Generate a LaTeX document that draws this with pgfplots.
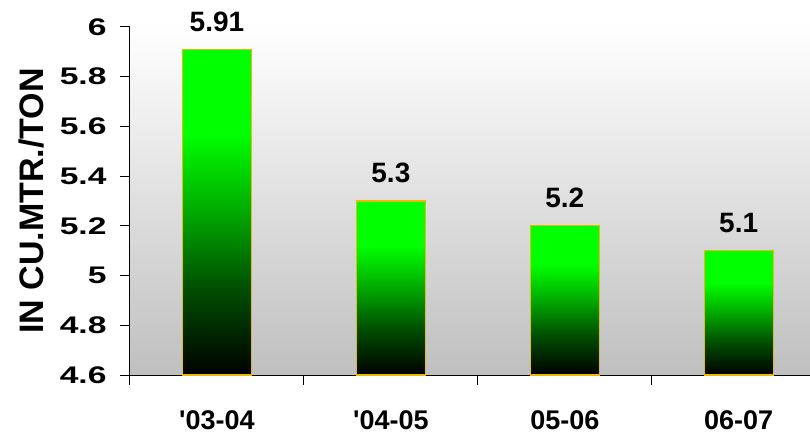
\documentclass[border=0pt]{standalone}
\usepackage{graphicx}
\usepackage{pgfplots}
\pgfplotsset{compat=1.18}
\usepackage{fontspec}
\setmainfont{Liberation Sans}[Ligatures=TeXOff]
\pgfdeclareverticalshading{barshade}{100bp}{color(0bp)=(black); color(25bp)=(black); color(38bp)=(green!30!black); color(52bp)=(green!72!black); color(62bp)=(green); color(75bp)=(green); color(100bp)=(green)}
\definecolor{barborder}{RGB}{235,185,0}
\pgfplotsset{barstyle/.style={draw=barborder, shading=barshade, line width=1.2pt}}
\begin{document}
\begin{tikzpicture}
\useasboundingbox (-130bp,-61bp) rectangle (680bp,375bp);
\begin{axis}[
  at={(0,0)}, anchor=south west,
  scale only axis, width=680bp, height=348bp,
  xmin=-0.5, xmax=3.41, ymin=4.6, ymax=6,
  axis x line*=bottom, axis y line*=left,
  axis line style={black, line width=1pt},
  axis background/.style={shading=axis, top color=white, bottom color=gray!50},
  ytick={4.6,4.8,5,5.2,5.4,5.6,5.8,6},
  yticklabel={\scalebox{1.4}[1]{\pgfmathprintnumber{\tick}}},
  xtick={0,1,2,3},
  xticklabels={'03-04,'04-05,05-06,06-07},
  major x tick style={draw=none},
  minor xtick={-0.5,0.5,1.5,2.5},
  minor tick length=10bp,
  major tick length=10bp,
  tick align=outside,
  tick style={black, line width=1pt},
  /pgf/number format/assume math mode=true,
  yticklabel style={font=\fontsize{24bp}{28bp}\selectfont\bfseries, xshift=-10bp},
  xticklabel style={font=\fontsize{27bp}{31bp}\selectfont\bfseries, yshift=-22bp},
  ylabel={IN CU.MTR./TON},
  every axis y label/.style={at={(axis description cs:-0.145,0.5)}, rotate=90, anchor=center, font=\fontsize{34bp}{38bp}\selectfont\bfseries},
  ybar, bar width=69bp, bar shift=0pt,
  nodes near coords,
  nodes near coords style={text=black, font=\fontsize{28bp}{32bp}\selectfont\bfseries, yshift=14bp},
  clip=false,
]
\addplot[barstyle] coordinates {(0,5.91)};
\addplot[barstyle] coordinates {(1,5.3)};
\addplot[barstyle] coordinates {(2,5.2)};
\addplot[barstyle] coordinates {(3,5.1)};
\end{axis}
\end{tikzpicture}
\end{document}
